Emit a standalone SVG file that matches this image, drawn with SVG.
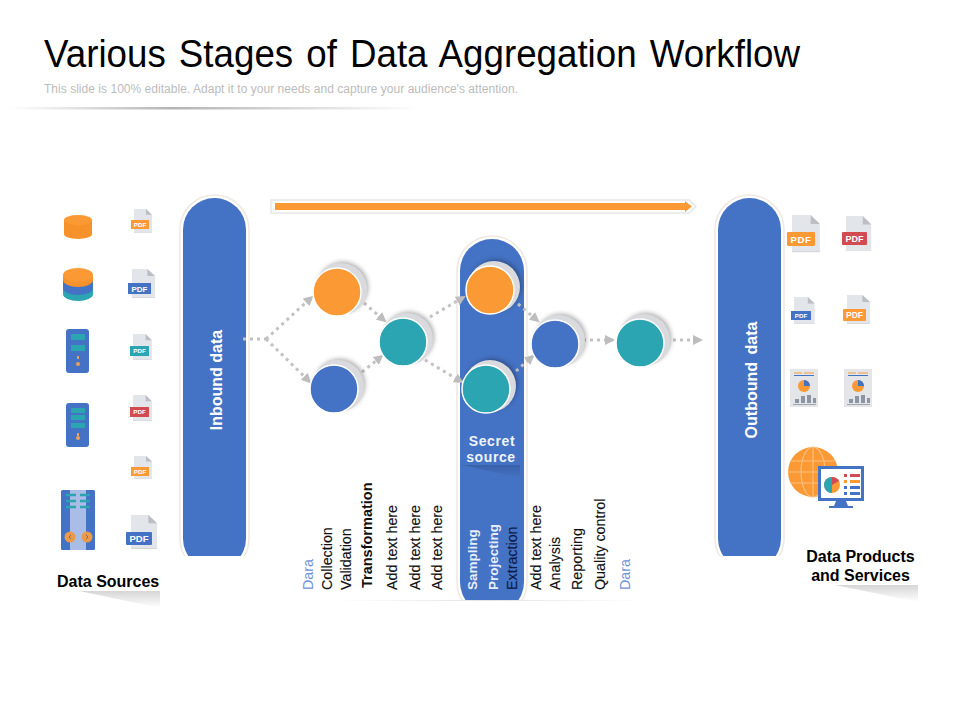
<svg xmlns="http://www.w3.org/2000/svg" width="960" height="720" viewBox="0 0 960 720">
<style>
text{font-family:"Liberation Sans",Arial,sans-serif}
.halo{fill:#fff;stroke:#eee8e1;stroke-width:1.500}
.pill{fill:#4472c4}
.vt{font-size:14.3px;fill:#111;stroke:#111;stroke-width:.15}
.vb{font-size:14.500px;font-weight:bold;fill:#111}
.da{font-size:14.3px;fill:#6f94d6}
.pw{font-size:13.500px;fill:#e6edfa;font-weight:bold}
.pl{font-size:16px;font-weight:bold;fill:#fff}
.cap{font-size:16px;font-weight:bold;fill:#000}
.pdf{font-size:6.2px;font-weight:bold;fill:#fff;text-anchor:middle}
.conn{fill:none;stroke:#c2c2c2;stroke-width:3;stroke-dasharray:3 4}
.ring{stroke:#fff;stroke-width:1.500}
.or{fill:#fb9a34}.bl{fill:#4472c4}.te{fill:#2ba5b2}.re{fill:#d24a52}
.back{fill:#d9dadd}
.sh{fill:#000;opacity:.34;filter:url(#blur)}
</style>
<defs>
<filter id="blur" x="-40%" y="-40%" width="180%" height="180%"><feGaussianBlur stdDeviation="2.500"/></filter>
<marker id="ah" viewBox="0 0 10 10" refX="8" refY="5" markerWidth="10" markerHeight="10" markerUnits="userSpaceOnUse" orient="auto"><path d="M0 0L10 5L0 10Z" fill="#bdbdbd"/></marker>
<linearGradient id="capS" x1="0" y1="0" x2="0" y2="1"><stop offset="0" stop-color="#d6d6d6"/><stop offset="1" stop-color="#fff"/></linearGradient>
<linearGradient id="rule" x1="0" y1="0" x2="1" y2="0"><stop offset="0" stop-color="#fff"/><stop offset=".4" stop-color="#b4b4b4"/><stop offset="1" stop-color="#fff"/></linearGradient>
<linearGradient id="base" x1="0" y1="0" x2="1" y2="0"><stop offset="0" stop-color="#fff"/><stop offset=".5" stop-color="#e2e2e2"/><stop offset="1" stop-color="#fff"/></linearGradient>
<linearGradient id="wedge" x1="0" y1="0" x2="0" y2="1"><stop offset="0" stop-color="#3a62ab"/><stop offset="1" stop-color="#4472c4"/></linearGradient>
<clipPath id="clipSide"><rect x="170" y="180" width="620" height="376"/></clipPath>
<clipPath id="clipMid"><rect x="450" y="230" width="85" height="370"/></clipPath>
<g id="paper"><path d="M0 0H12L18 6V24H0Z" fill="#e2e5ea"/><path d="M12 0L18 6H12Z" fill="#bcbec3"/><path d="M0 24H18V24.800H0Z" fill="#d4d6da"/></g>
<g id="report">
<rect width="28" height="38" fill="#e3e5e9"/>
<rect x="4" y="3.500" width="8" height="1" fill="#fb9a34"/><rect x="14" y="3.500" width="10" height="1" fill="#fb9a34"/>
<rect x="4" y="6" width="20" height="1" fill="#4472c4"/>
<circle cx="14" cy="17" r="6" fill="#fb9a34"/><path d="M14 17V11A6 6 0 0 1 20 17Z" fill="#4472c4"/>
<path d="M5 34H9V30H5ZM11 34H15V27H11ZM17 34H21V26H17ZM23 34H26V29H23Z" fill="#8d95a3"/>
<rect x="3" y="35" width="23" height=".8" fill="#8d95a3"/>
</g>
</defs>
<rect width="960" height="720" fill="#fff"/>

<g id="header">
<text x="44" y="67" font-size="38" fill="#000" word-spacing="3" textLength="756" lengthAdjust="spacingAndGlyphs">Various Stages of Data Aggregation Workflow</text>
<text x="44" y="93" font-size="12" fill="#bcbcbc" textLength="474">This slide is 100% editable. Adapt it to your needs and capture your audience's attention.</text>
<rect x="10" y="107" width="410" height="2.500" fill="url(#rule)"/>
</g>

<g id="progress-arrow">
<path d="M271 200H689L696 206.500L689 213H271Z" fill="#fff" stroke="#e6e6e6" stroke-width="1.500"/>
<path d="M275 203H685V201L692 206.500L685 212V210H275Z" fill="#fb9a34"/>
</g>

<g id="inbound">
<g clip-path="url(#clipSide)">
<rect class="halo" x="180" y="195" width="69" height="378" rx="34.500"/>
<rect class="pill" x="183" y="198" width="63" height="372" rx="31.500"/>
</g>
<text class="pl" x="222" y="380" text-anchor="middle" transform="rotate(-90 222 380)">Inbound data</text>
</g>

<g id="outbound">
<g clip-path="url(#clipSide)">
<rect class="halo" x="715" y="195" width="69" height="378" rx="34.500"/>
<rect class="pill" x="718" y="198" width="63" height="372" rx="31.500"/>
</g>
<text class="pl" x="757" y="380" text-anchor="middle" word-spacing="3" transform="rotate(-90 757 380)">Outbound data</text>
</g>

<g id="secret-source">
<g clip-path="url(#clipMid)">
<rect class="halo" x="457" y="236" width="70" height="381" rx="35"/>
<rect class="pill" x="460" y="239" width="64" height="375" rx="32"/>
<path d="M462 465H520V478Z" fill="url(#wedge)"/>
</g>
<text x="492" y="446" font-size="14" font-weight="bold" fill="#eef3fc" text-anchor="middle" letter-spacing=".6">Secret</text>
<text x="491" y="462" font-size="14" font-weight="bold" fill="#eef3fc" text-anchor="middle" letter-spacing=".6">source</text>
</g>

<g id="connectors">
<path class="conn" d="M243 339H266"/>
<path class="conn" d="M266 339L312 297" marker-end="url(#ah)"/>
<path class="conn" d="M266 339L310 382" marker-end="url(#ah)"/>
<path class="conn" d="M364 303L385 321" marker-end="url(#ah)"/>
<path class="conn" d="M362 372L382 356" marker-end="url(#ah)"/>
<path class="conn" d="M430 317L464 297" marker-end="url(#ah)"/>
<path class="conn" d="M425 360L462 382" marker-end="url(#ah)"/>
<path class="conn" d="M518 304L538 321" marker-end="url(#ah)"/>
<path class="conn" d="M516 371L533 356" marker-end="url(#ah)"/>
<path class="conn" d="M583 340H613" marker-end="url(#ah)"/>
<path class="conn" d="M673 340H701" marker-end="url(#ah)"/>
</g>

<g id="n-orange-1"><circle class="sh" cx="343" cy="287" r="25"/><circle class="back" cx="341" cy="289" r="26"/><circle class="or ring" cx="337" cy="292" r="24"/></g>
<g id="n-blue-1"><circle class="sh" cx="340" cy="384" r="25"/><circle class="back" cx="338" cy="386" r="26"/><circle class="bl ring" cx="334" cy="389" r="24"/></g>
<g id="n-teal-1"><circle class="sh" cx="409" cy="337" r="25"/><circle class="back" cx="407" cy="339" r="26"/><circle class="te ring" cx="403" cy="342" r="24"/></g>
<g id="n-orange-2"><circle class="sh" cx="496" cy="285" r="25"/><circle class="back" cx="494" cy="287" r="26"/><circle class="or ring" cx="490" cy="290" r="24"/></g>
<g id="n-teal-2"><circle class="sh" cx="492" cy="384" r="25"/><circle class="back" cx="490" cy="386" r="26"/><circle class="te ring" cx="486" cy="389" r="24"/></g>
<g id="n-blue-2"><circle class="sh" cx="561" cy="339" r="25"/><circle class="back" cx="559" cy="341" r="26"/><circle class="bl ring" cx="555" cy="344" r="24"/></g>
<g id="n-teal-3"><circle class="sh" cx="646" cy="338" r="25"/><circle class="back" cx="644" cy="340" r="26"/><circle class="te ring" cx="640" cy="343" r="24"/></g>

<g id="stage-labels">
<rect x="340" y="600" width="300" height="1" fill="url(#base)"/>
<text class="da" transform="rotate(-90 313 590)" x="313" y="590">Dara</text>
<text class="vt" transform="rotate(-90 332 590)" x="332" y="590">Collection</text>
<text class="vt" transform="rotate(-90 351 590)" x="351" y="590">Validation</text>
<text class="vb" transform="rotate(-90 372 588)" x="372" y="588">Transformation</text>
<text class="vt" transform="rotate(-90 397 590)" x="397" y="590">Add text here</text>
<text class="vt" transform="rotate(-90 420 590)" x="420" y="590">Add text here</text>
<text class="vt" transform="rotate(-90 442 590)" x="442" y="590">Add text here</text>
<text class="pw" transform="rotate(-90 477 590)" x="477" y="590">Sampling</text>
<text class="pw" transform="rotate(-90 498 590)" x="498" y="590">Projecting</text>
<text class="vt" transform="rotate(-90 517 590)" x="517" y="590" style="fill:#0c1c48;stroke:#0c1c48">Extraction</text>
<text class="vt" transform="rotate(-90 541 590)" x="541" y="590">Add text here</text>
<text class="vt" transform="rotate(-90 560 590)" x="560" y="590">Analysis</text>
<text class="vt" transform="rotate(-90 582 590)" x="582" y="590">Reporting</text>
<text class="vt" transform="rotate(-90 605 590)" x="605" y="590">Quality control</text>
<text class="da" transform="rotate(-90 630 590)" x="630" y="590">Dara</text>
</g>

<g id="db-orange">
<path d="M64 220V234A14 5 0 0 0 92 234V220Z" fill="#f7912a"/><ellipse cx="78" cy="220" rx="14" ry="5" class="or"/>
</g>
<g id="db-stack">
<path d="M63 285V294A15 7 0 0 0 93 294V285Z" class="te"/>
<path d="M63 279V288A15 7 0 0 0 93 288V279Z" class="bl"/>
<path d="M63 275V280A15 7 0 0 0 93 280V275Z" fill="#f7912a"/><ellipse cx="78" cy="275" rx="15" ry="7" class="or"/>
</g>
<g id="server-1">
<rect x="66" y="329" width="23" height="44" rx="3" class="bl"/>
<rect x="71" y="334" width="14" height="6" class="te"/><rect x="71" y="345" width="14" height="6" class="te"/>
<rect x="77" y="356" width="2" height="3" fill="#e9a15c"/><circle cx="78" cy="364" r="2" fill="#e9a15c"/>
</g>
<g id="server-2">
<rect x="66" y="403" width="23" height="44" rx="3" class="bl"/>
<rect x="71" y="408" width="14" height="5" class="te"/><rect x="71" y="415" width="14" height="5" class="te"/><rect x="71" y="423" width="14" height="5" class="te"/>
<rect x="77" y="433" width="2" height="3" fill="#e9a15c"/><circle cx="78" cy="438" r="2" fill="#e9a15c"/>
</g>
<g id="server-3">
<rect x="61" y="490" width="34" height="60" rx="1.500" class="bl"/>
<rect x="70" y="490" width="16" height="60" fill="#a9bde6"/>
<path d="M66 495H76M66 501H76M66 507H76M80 495H90M80 501H90M80 507H90" stroke="#2ba5b2" stroke-width="2.500" fill="none"/>
<circle cx="70" cy="537" r="5.500" fill="#ec9a4a"/><circle cx="87" cy="537" r="5.500" fill="#ec9a4a"/>
<path d="M71 535L69 537L71 539M86 535L88 537L86 539" stroke="#8a6a50" fill="none"/>
</g>

<g id="pdf-l1"><use href="#paper" transform="translate(134 209) scale(1 .97)"/><rect x="131" y="220" width="18" height="9" class="or"/><text class="pdf" x="140" y="227.200">PDF</text></g>
<g id="pdf-l2"><use href="#paper" transform="translate(132 269) scale(1.28 1.17)"/><rect x="128" y="283" width="23" height="11" class="bl"/><text class="pdf" style="font-size:8px" x="139.500" y="291.700">PDF</text></g>
<g id="pdf-l3"><use href="#paper" transform="translate(133 334) scale(1.05)"/><rect x="130" y="346" width="19" height="10" class="te"/><text class="pdf" x="139.500" y="353.400">PDF</text></g>
<g id="pdf-l4"><use href="#paper" transform="translate(133 395) scale(1.05)"/><rect x="130" y="407" width="19" height="10" class="re"/><text class="pdf" x="139.500" y="414.400">PDF</text></g>
<g id="pdf-l5"><use href="#paper" transform="translate(134 456) scale(1 .92)"/><rect x="131" y="467" width="18" height="9" class="or"/><text class="pdf" x="140" y="474.200">PDF</text></g>
<g id="pdf-l6"><use href="#paper" transform="translate(131 515) scale(1.45 1.37)"/><rect x="126" y="532" width="26" height="13" rx="1" class="bl"/><text class="pdf" style="font-size:9.500px" x="139" y="542.300">PDF</text></g>

<g id="pdf-r1"><use href="#paper" transform="translate(792 215) scale(1.55 1.5)"/><rect x="787" y="232" width="28" height="14" rx="1" class="or"/><text class="pdf" style="font-size:9.500px" x="801" y="242.500" letter-spacing=".6">PDF</text></g>
<g id="pdf-r2"><use href="#paper" transform="translate(846 216) scale(1.4)"/><rect x="842" y="232" width="25" height="13" rx="1" class="re"/><text class="pdf" style="font-size:9px" x="854.500" y="241.800">PDF</text></g>
<g id="pdf-r3"><use href="#paper" transform="translate(794 297) scale(1.15 1.08)"/><rect x="791" y="311" width="20" height="9" class="bl"/><text class="pdf" x="801" y="318">PDF</text></g>
<g id="pdf-r4"><use href="#paper" transform="translate(847 295) scale(1.28 1.17)"/><rect x="843" y="309" width="23" height="12" rx="1" class="or"/><text class="pdf" style="font-size:8.500px" x="854.500" y="318">PDF</text></g>
<g id="report-1"><use href="#report" transform="translate(790 369)"/></g>
<g id="report-2"><use href="#report" transform="translate(844 369)"/></g>

<g id="globe-monitor">
<circle cx="813" cy="472" r="25" fill="#fb9a34"/>
<path d="M788 472H838M790 461H836M790 483H836M813 447V497" stroke="#fdbf80" stroke-width="1.200" fill="none"/>
<ellipse cx="813" cy="472" rx="12" ry="25" stroke="#fdbf80" stroke-width="1.200" fill="none"/>
<rect x="818" y="466" width="46" height="35" class="bl"/>
<rect x="821" y="469" width="40" height="29" fill="#fff"/>
<path d="M836 501H846L848 506H853V508H829V506H834Z" class="bl"/>
<circle cx="832" cy="485" r="8" class="or"/>
<path d="M832 485V477A8 8 0 0 0 832 493Z" class="te"/>
<path d="M832 485V477A8 8 0 0 1 839 481Z" class="re"/>
<rect x="844" y="474" width="3" height="3" class="re"/><rect x="850" y="474" width="10" height="3" class="re"/>
<rect x="844" y="480" width="3" height="3" class="or"/><rect x="850" y="480" width="10" height="3" class="or"/>
<rect x="844" y="486" width="3" height="3" class="bl"/><rect x="850" y="486" width="10" height="3" class="bl"/>
<rect x="844" y="492" width="3" height="3" class="bl"/><rect x="850" y="492" width="10" height="3" class="bl"/>
</g>

<g id="data-sources">
<path d="M79 591H160V608Z" fill="url(#capS)"/>
<text class="cap" x="57" y="587">Data Sources</text>
</g>
<g id="data-products">
<path d="M835 585H918V602Z" fill="url(#capS)"/>
<text class="cap" x="860.500" y="562" text-anchor="middle">Data Products</text>
<text class="cap" x="860.500" y="581" text-anchor="middle">and Services</text>
</g>
</svg>
